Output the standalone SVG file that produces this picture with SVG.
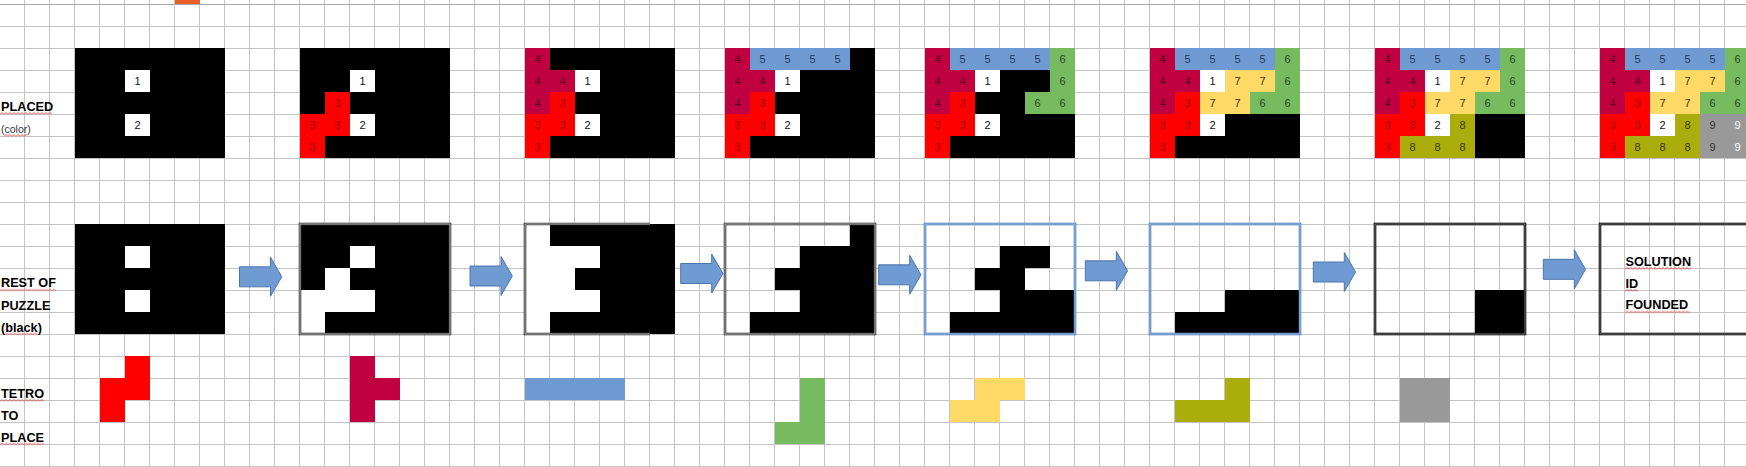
<svg xmlns="http://www.w3.org/2000/svg" xmlns:xlink="http://www.w3.org/1999/xlink" width="1746" height="467" viewBox="0 0 1746 467">
<style>
.n{font-family:"Liberation Sans",Arial,sans-serif;font-size:11px;text-anchor:middle}
.lb{font-family:"Liberation Sans",Arial,sans-serif;font-size:12.7px;font-weight:bold;fill:#000}
.lr{font-family:"Liberation Sans",Arial,sans-serif;font-size:10.5px;fill:#333}
.blk{fill:#000}
.wh{fill:#fff}
.k3{fill:#FF0000}.t3{fill:#9A0000}
.k4{fill:#C00040}.t4{fill:#5A0020}
.k5{fill:#709BD2}.t5{fill:#1F3A60}
.k6{fill:#77BB60}.t6{fill:#1E4A1E}
.k7{fill:#FFD966}.t7{fill:#3F3300}
.k8{fill:#AAAD0B}.t8{fill:#3A3A00}
.k9{fill:#999999}.t9{fill:#333}.t9w{fill:#fff}
.t0{fill:#111}
.bd{fill:none;stroke-width:2.6}
.bm{fill:none;stroke-width:0.8}
.g{stroke:#3a3a3a}.gm{stroke:#c8c8c8}
.bl{stroke:#4F7FC0}.blm{stroke:#B5CBE8}
.bk{stroke:#000}.bkm{stroke:#999}
.arrow{fill:#709BD2;stroke:#4A76AE;stroke-width:1}
</style>
<defs>
<pattern id="grid" x="0" y="4" width="25" height="22" patternUnits="userSpaceOnUse">
<path d="M24.5 0V22M0 0.5H25" stroke="#c4c4c4" stroke-width="1" fill="none"/>
</pattern>
<pattern id="wave" x="0" y="0" width="4" height="3" patternUnits="userSpaceOnUse">
<path d="M0 2.5L2 0.5L4 2.5" stroke="#e02020" stroke-width="0.8" fill="none"/>
</pattern>
<path id="arrow" class="arrow" d="M0 -10H31V-19.5L42.3 0L31 19.5V10H0Z"/>
<g id="w12">
<rect class="wh" x="50" y="22" width="25" height="22"/><rect class="wh" x="50" y="66" width="25" height="22"/>
<text class="n t0" x="62.5" y="37">1</text><text class="n t0" x="62.5" y="81">2</text>
</g>
<g id="pc3">
<path class="k3" d="M25 44H50V88H25V110H0V66H25Z"/>
<text class="n t3" x="37.5" y="59">3</text><text class="n t3" x="12.5" y="81">3</text><text class="n t3" x="37.5" y="81">3</text><text class="n t3" x="12.5" y="103">3</text>
</g>
<g id="pc4">
<path class="k4" d="M0 0H25V22H50V44H25V66H0Z"/>
<text class="n t4" x="12.5" y="15">4</text><text class="n t4" x="12.5" y="37">4</text><text class="n t4" x="37.5" y="37">4</text><text class="n t4" x="12.5" y="59">4</text>
</g>
<g id="pc5">
<path class="k5" d="M25 0H125V22H25Z"/>
<text class="n t5" x="37.5" y="15">5</text><text class="n t5" x="62.5" y="15">5</text><text class="n t5" x="87.5" y="15">5</text><text class="n t5" x="112.5" y="15">5</text>
</g>
<g id="pc6">
<path class="k6" d="M125 0H150V66H100V44H125Z"/>
<text class="n t6" x="137.5" y="15">6</text><text class="n t6" x="137.5" y="37">6</text><text class="n t6" x="112.5" y="59">6</text><text class="n t6" x="137.5" y="59">6</text>
</g>
<g id="pc7">
<path class="k7" d="M75 22H125V44H100V66H50V44H75Z"/>
<text class="n t7" x="87.5" y="37">7</text><text class="n t7" x="112.5" y="37">7</text><text class="n t7" x="62.5" y="59">7</text><text class="n t7" x="87.5" y="59">7</text>
</g>
<g id="pc8">
<path class="k8" d="M75 66H100V110H25V88H75Z"/>
<text class="n t8" x="87.5" y="81">8</text><text class="n t8" x="37.5" y="103">8</text><text class="n t8" x="62.5" y="103">8</text><text class="n t8" x="87.5" y="103">8</text>
</g>
<g id="pc9">
<path class="k9" d="M100 66H150V110H100Z"/>
<text class="n t9" x="112.5" y="81">9</text><text class="n t9w" x="137.5" y="81">9</text><text class="n t9" x="112.5" y="103">9</text><text class="n t9w" x="137.5" y="103">9</text>
</g>
</defs>

<rect width="1746" height="467" fill="#fff"/>
<rect width="1746" height="467" fill="url(#grid)"/>
<rect x="175" y="0" width="25" height="4" fill="#E8612A"/>
<path d="M0 4.5H1746" stroke="#a8a8a8" stroke-width="1"/>

<g id="labels">
<text class="lb" x="1" y="111">PLACED</text>
<text class="lr" x="1" y="133">(color)</text>
<text class="lb" x="1" y="287.3">REST OF</text>
<text class="lb" x="1" y="310">PUZZLE</text>
<text class="lb" x="1" y="331.5">(black)</text>
<text class="lb" x="1" y="398.3">TETRO</text>
<text class="lb" x="1" y="419.7">TO</text>
<text class="lb" x="1" y="441.7">PLACE</text>
<rect transform="translate(0,112)" width="52" height="3" fill="url(#wave)"/>
<rect transform="translate(4,134)" width="23" height="3" fill="url(#wave)"/>
<rect transform="translate(0,288.5)" width="56" height="3" fill="url(#wave)"/>
<rect transform="translate(5,332.5)" width="33" height="3" fill="url(#wave)"/>
<rect transform="translate(0,399)" width="44" height="3" fill="url(#wave)"/>
<rect transform="translate(0,442.5)" width="44" height="3" fill="url(#wave)"/>
</g>

<g id="placed-1" transform="translate(75,48)"><rect class="blk" width="150" height="110"/><use xlink:href="#w12"/></g>
<g id="placed-2" transform="translate(300,48)"><rect class="blk" width="150" height="110"/><use xlink:href="#w12"/><use xlink:href="#pc3"/></g>
<g id="placed-3" transform="translate(525,48)"><rect class="blk" width="150" height="110"/><use xlink:href="#w12"/><use xlink:href="#pc3"/><use xlink:href="#pc4"/></g>
<g id="placed-4" transform="translate(725,48)"><rect class="blk" width="150" height="110"/><use xlink:href="#w12"/><use xlink:href="#pc3"/><use xlink:href="#pc4"/><use xlink:href="#pc5"/></g>
<g id="placed-5" transform="translate(925,48)"><rect class="blk" width="150" height="110"/><use xlink:href="#w12"/><use xlink:href="#pc3"/><use xlink:href="#pc4"/><use xlink:href="#pc5"/><use xlink:href="#pc6"/></g>
<g id="placed-6" transform="translate(1150,48)"><rect class="blk" width="150" height="110"/><use xlink:href="#w12"/><use xlink:href="#pc3"/><use xlink:href="#pc4"/><use xlink:href="#pc5"/><use xlink:href="#pc6"/><use xlink:href="#pc7"/></g>
<g id="placed-7" transform="translate(1375,48)"><rect class="blk" width="150" height="110"/><use xlink:href="#w12"/><use xlink:href="#pc3"/><use xlink:href="#pc4"/><use xlink:href="#pc5"/><use xlink:href="#pc6"/><use xlink:href="#pc7"/><use xlink:href="#pc8"/></g>
<g id="placed-8" transform="translate(1600,48)"><rect class="blk" width="150" height="110"/><use xlink:href="#w12"/><use xlink:href="#pc3"/><use xlink:href="#pc4"/><use xlink:href="#pc5"/><use xlink:href="#pc6"/><use xlink:href="#pc7"/><use xlink:href="#pc8"/><use xlink:href="#pc9"/></g>

<g id="rest-1" transform="translate(75,224)">
<rect class="blk" width="150" height="110"/>
<rect class="wh" x="50" y="22" width="25" height="22"/><rect class="wh" x="50" y="66" width="25" height="22"/>
</g>
<g id="rest-2" transform="translate(300,224)">
<rect class="blk" width="150" height="110"/>
<path class="wh" d="M50 22H75V44H50ZM25 44H50V66H75V88H25V110H0V66H25Z"/>
<rect class="bd g" x="0" y="0" width="150" height="110"/><rect class="bm gm" x="0" y="0" width="150" height="110"/>
</g>
<g id="rest-3" transform="translate(525,224)">
<rect class="blk" width="150" height="110"/>
<path class="wh" d="M0 0H25V22H75V44H50V66H75V88H25V110H0Z"/>
<path class="bd g" d="M125 0H0V110H125"/><path class="bm gm" d="M125 0H0V110H125"/>
</g>
<g id="rest-4" transform="translate(725,224)">
<path class="blk" d="M125 0H150V110H25V88H75V66H50V44H75V22H125Z"/>
<rect class="bd g" x="0" y="0" width="150" height="110"/><rect class="bm gm" x="0" y="0" width="150" height="110"/>
</g>
<g id="rest-5" transform="translate(925,224)">
<path class="blk" d="M75 22H125V44H100V66H150V110H25V88H75V66H50V44H75Z"/>
<rect class="bd bl" x="0" y="0" width="150" height="110"/><rect class="bm blm" x="0" y="0" width="150" height="110"/>
</g>
<g id="rest-6" transform="translate(1150,224)">
<path class="blk" d="M75 66H150V110H25V88H75Z"/>
<rect class="bd bl" x="0" y="0" width="150" height="110"/><rect class="bm blm" x="0" y="0" width="150" height="110"/>
</g>
<g id="rest-7" transform="translate(1375,224)">
<path class="blk" d="M100 66H150V110H100Z"/>
<rect class="bd bk" x="0" y="0" width="150" height="110"/><rect class="bm bkm" x="0" y="0" width="150" height="110"/>
</g>
<g id="rest-8" transform="translate(1600,224)">
<rect class="bd bk" x="0" y="0" width="160" height="110"/><rect class="bm bkm" x="0" y="0" width="160" height="110"/>
<text class="lb" x="25.5" y="41.5">SOLUTION</text>
<text class="lb" x="25.5" y="63.5">ID</text>
<text class="lb" x="25.5" y="85">FOUNDED</text>
<rect transform="translate(25,43)" width="66" height="3" fill="url(#wave)"/>
<rect transform="translate(25,65)" width="13" height="3" fill="url(#wave)"/>
<rect transform="translate(25,86.5)" width="65" height="3" fill="url(#wave)"/>
</g>

<g id="tetro-1"><path class="k3" d="M125 356H150V400H125V422H100V378H125Z"/></g>
<g id="tetro-2"><path class="k4" d="M350 356H375V378H400V400H375V422H350Z"/></g>
<g id="tetro-3"><rect class="k5" x="525" y="378" width="100" height="22"/></g>
<g id="tetro-4"><path class="k6" d="M800 378H825V444H775V422H800Z"/></g>
<g id="tetro-5"><path class="k7" d="M975 378H1025V400H1000V422H950V400H975Z"/></g>
<g id="tetro-6"><path class="k8" d="M1225 378H1250V422H1175V400H1225Z"/></g>
<g id="tetro-7"><rect class="k9" x="1400" y="378" width="50" height="44"/></g>

<g id="connectors">
<use xlink:href="#arrow" x="239.5" y="276.8"/>
<use xlink:href="#arrow" x="470" y="276"/>
<use xlink:href="#arrow" x="680.7" y="273.5"/>
<use xlink:href="#arrow" x="878.7" y="274.8"/>
<use xlink:href="#arrow" x="1085.3" y="270.8"/>
<use xlink:href="#arrow" x="1313.3" y="272"/>
<use xlink:href="#arrow" x="1543.3" y="269.3"/>
</g>
</svg>
